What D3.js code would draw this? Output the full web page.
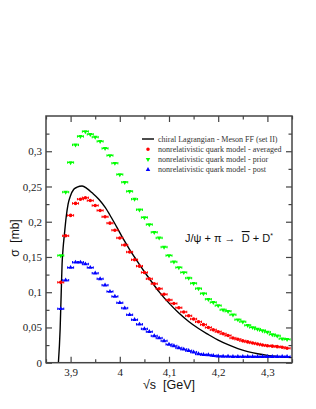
<!DOCTYPE html>
<html>
<head>
<meta charset="utf-8">
<script src="https://cdn.jsdelivr.net/npm/d3@7"></script>
<style>
  body { margin: 0; background: #fff; }
</style>
</head>
<body>
<svg id="drawing_region"></svg>
<script>
// sqrt(s) in GeV, one point every 10 MeV
const sqrtS = [3.88, 3.89, 3.90, 3.91, 3.92, 3.93, 3.94, 3.95, 3.96, 3.97,
               3.98, 3.99, 4.00, 4.01, 4.02, 4.03, 4.04, 4.05, 4.06, 4.07,
               4.08, 4.09, 4.10, 4.11, 4.12, 4.13, 4.14, 4.15, 4.16, 4.17,
               4.18, 4.19, 4.20, 4.21, 4.22, 4.23, 4.24, 4.25, 4.26, 4.27,
               4.28, 4.29, 4.30, 4.31, 4.32, 4.33, 4.34];

const averaged = [0.114, 0.180, 0.209, 0.226, 0.232, 0.234, 0.230, 0.223, 0.216, 0.207,
                  0.198, 0.188, 0.177, 0.167, 0.157, 0.146, 0.137, 0.128, 0.119, 0.112,
                  0.105, 0.097, 0.089, 0.084, 0.078, 0.072, 0.0665, 0.062, 0.058, 0.054,
                  0.050, 0.0466, 0.044, 0.041, 0.0385, 0.035, 0.0333, 0.031, 0.0295, 0.028,
                  0.0266, 0.025, 0.024, 0.0235, 0.0228, 0.022, 0.0205];

const prior = [0.152, 0.242, 0.284, 0.309, 0.321, 0.328, 0.324, 0.320, 0.314, 0.304,
               0.294, 0.283, 0.267, 0.256, 0.243, 0.232, 0.217, 0.206, 0.196, 0.185,
               0.177, 0.164, 0.152, 0.143, 0.135, 0.128, 0.120, 0.1125, 0.105, 0.098,
               0.090, 0.0855, 0.081, 0.075, 0.073, 0.068, 0.061, 0.058, 0.053, 0.050,
               0.0476, 0.0456, 0.0433, 0.040, 0.038, 0.034, 0.033];

const post = [0.0765, 0.117, 0.135, 0.1425, 0.1425, 0.140, 0.135, 0.127, 0.119, 0.110,
              0.101, 0.094, 0.085, 0.0775, 0.068, 0.061, 0.0545, 0.048, 0.044, 0.038,
              0.035, 0.031, 0.026, 0.0238, 0.021, 0.019, 0.017, 0.015, 0.0124, 0.0114,
              0.011, 0.0100, 0.0093, 0.0090, 0.0088, 0.0087, 0.0086, 0.0085, 0.0085, 0.0085,
              0.0085, 0.0085, 0.0085, 0.0086, 0.0086, 0.0087, 0.0087];

// chiral Lagrangian curve
const chiralX = [3.8752, 3.8787, 3.8807, 3.8827, 3.8848, 3.8874, 3.8909, 3.8949, 3.8996, 3.9065,
                 3.9132, 3.9234, 3.9335, 3.9437, 3.9573, 3.9707, 3.9828, 3.995, 4.008, 4.020,
                 4.035, 4.050, 4.065, 4.080, 4.100, 4.120, 4.140, 4.160, 4.180, 4.200,
                 4.220, 4.240, 4.260, 4.280, 4.300, 4.320, 4.350];
const chiralY = [0, 0.047, 0.094, 0.140, 0.163, 0.182, 0.206, 0.225, 0.2365, 0.246,
                 0.249, 0.2507, 0.247, 0.241, 0.232, 0.220, 0.206, 0.191, 0.1745, 0.1605,
                 0.1445, 0.129, 0.1145, 0.1005, 0.0845, 0.0705, 0.0585, 0.0485, 0.040, 0.032,
                 0.0255, 0.020, 0.0158, 0.0127, 0.0104, 0.0088, 0.0072];

const xTicks = [3.9, 4.0, 4.1, 4.2, 4.3];
const xTickLabels = ["3,9", "4", "4,1", "4,2", "4,3"];
const xMinorTicks = [3.85, 3.95, 4.05, 4.15, 4.25, 4.35];
const yTicks = [0, 0.05, 0.1, 0.15, 0.2, 0.25, 0.3];
const yTickLabels = ["0", "0,05", "0,1", "0,15", "0,2", "0,25", "0,3"];
const yMinorTicks = [0.025, 0.075, 0.125, 0.175, 0.225, 0.275, 0.325];

const legendLabels = [
    "chiral Lagrangian - Meson FF (set II)",
    "nonrelativistic quark model - averaged",
    "nonrelativistic quark model - prior",
    "nonrelativistic quark model - post"
];

const config = {
    width: 316,
    height: 409,
    margin: {top: 116, right: 24, bottom: 46.3, left: 46}
};

const svg = d3.select('#drawing_region')
    .attr('width', config.width)
    .attr('height', config.height);

const inner_width = config.width - config.margin.left - config.margin.right;
const inner_height = config.height - config.margin.top - config.margin.bottom;

const chart = svg.append('g')
    .attr('transform', `translate(${config.margin.left}, ${config.margin.top})`);

const xscale = d3.scaleLinear().domain([3.85, 4.35]).range([0, inner_width]);
const yscale = d3.scaleLinear().domain([0, 0.35]).range([inner_height, 0]);

const serif = "'Liberation Serif', 'Times New Roman', serif";
const sans = "'Liberation Sans', Arial, sans-serif";
const axisColor = "#444";

// axes: ticks pointing inward on all four sides
function styleAxis(g) {
    g.select('.domain').remove();
    g.selectAll('.tick line').attr('stroke', axisColor).attr('stroke-width', 1.2);
    g.selectAll('.tick text').attr('font-family', serif).attr('font-size', '11px').attr('fill', '#222');
}

chart.append('g')
    .attr('transform', `translate(0, ${inner_height})`)
    .call(d3.axisBottom(xscale).tickValues(xTicks).tickSizeInner(-6).tickSizeOuter(0)
        .tickPadding(6).tickFormat((d, i) => xTickLabels[i]))
    .call(styleAxis);
chart.append('g')
    .attr('transform', `translate(0, ${inner_height})`)
    .call(d3.axisBottom(xscale).tickValues(xMinorTicks).tickSizeInner(-3.5).tickSizeOuter(0).tickFormat(''))
    .call(styleAxis);
chart.append('g')
    .call(d3.axisTop(xscale).tickValues(xTicks).tickSizeInner(-6).tickSizeOuter(0).tickFormat(''))
    .call(styleAxis);
chart.append('g')
    .call(d3.axisTop(xscale).tickValues(xMinorTicks).tickSizeInner(-3.5).tickSizeOuter(0).tickFormat(''))
    .call(styleAxis);

chart.append('g')
    .call(d3.axisLeft(yscale).tickValues(yTicks).tickSizeInner(-6).tickSizeOuter(0)
        .tickPadding(4).tickFormat((d, i) => yTickLabels[i]))
    .call(styleAxis);
chart.append('g')
    .call(d3.axisLeft(yscale).tickValues(yMinorTicks).tickSizeInner(-3.5).tickSizeOuter(0).tickFormat(''))
    .call(styleAxis);
chart.append('g')
    .attr('transform', `translate(${inner_width}, 0)`)
    .call(d3.axisRight(yscale).tickValues(yTicks).tickSizeInner(-6).tickSizeOuter(0).tickFormat(''))
    .call(styleAxis);
chart.append('g')
    .attr('transform', `translate(${inner_width}, 0)`)
    .call(d3.axisRight(yscale).tickValues(yMinorTicks).tickSizeInner(-3.5).tickSizeOuter(0).tickFormat(''))
    .call(styleAxis);

// clip for the curve
svg.append('defs').append('clipPath').attr('id', 'plotclip')
    .append('rect').attr('width', inner_width).attr('height', inner_height);

// chiral Lagrangian line
const chiral = chiralX.map((x, i) => ({x: x, y: chiralY[i]}));
chart.append('path')
    .datum(chiral)
    .attr('clip-path', 'url(#plotclip)')
    .attr('fill', 'none')
    .attr('stroke', '#000')
    .attr('stroke-width', 1.4)
    .attr('d', d3.line().x(d => xscale(d.x)).y(d => yscale(d.y)).curve(d3.curveMonotoneX));

// quark model series
const series = [
    {name: 'averaged', values: averaged, color: '#ff0000', symbol: d3.symbolCircle, size: 10, rotate: 0},
    {name: 'prior', values: prior, color: '#00ff00', symbol: d3.symbolTriangle, size: 9, rotate: 180},
    {name: 'post', values: post, color: '#0000ff', symbol: d3.symbolTriangle, size: 9, rotate: 0}
];

series.forEach(s => {
    const pts = sqrtS.map((x, i) => ({x: x, y: s.values[i]}));
    const g = chart.append('g');
    const marks = g.selectAll('g.pt')
        .data(pts)
        .enter()
        .append('g')
        .attr('class', 'pt')
        .attr('transform', d => `translate(${xscale(d.x)}, ${yscale(d.y)})`);
    // small bin bar with end caps
    marks.append('path')
        .attr('d', 'M-3,0H3M-3,-1.2V1.2M3,-1.2V1.2')
        .attr('stroke', s.color)
        .attr('stroke-width', 1)
        .attr('fill', 'none');
    marks.append('path')
        .attr('d', d3.symbol().type(s.symbol).size(s.size))
        .attr('transform', `rotate(${s.rotate})`)
        .attr('fill', s.color);
});

// legend
const legend = chart.append('g')
    .attr('transform', `translate(${142 - config.margin.left}, ${139 - config.margin.top})`);

legend.append('line')
    .attr('x1', 0).attr('x2', 12).attr('y1', 0).attr('y2', 0)
    .attr('stroke', '#000').attr('stroke-width', 1.4);

series.forEach((s, i) => {
    legend.append('path')
        .attr('transform', `translate(6, ${(i + 1) * 10.2}) rotate(${s.rotate})`)
        .attr('d', d3.symbol().type(s.symbol).size(s.size))
        .attr('fill', s.color);
});

legend.selectAll('text.leg')
    .data(legendLabels)
    .enter()
    .append('text')
    .attr('class', 'leg')
    .attr('x', 16)
    .attr('y', (d, i) => i * 10.2 + 2.7)
    .attr('font-family', serif)
    .attr('font-size', '8px')
    .attr('fill', '#333')
    .text(d => d);

// reaction annotation
const react = chart.append('text')
    .attr('x', 185 - config.margin.left)
    .attr('y', 242 - config.margin.top)
    .attr('font-family', sans)
    .attr('font-size', '11px')
    .attr('fill', '#111');
react.append('tspan').text('J/\u03C8 + \u03C0 \u2192\u00A0\u00A0');
react.append('tspan').style('text-decoration', 'overline').text('D');
react.append('tspan').text(' + D');
react.append('tspan').attr('dy', -4).attr('font-size', '7px').text('*');

// frame
chart.append('rect')
    .attr('width', inner_width)
    .attr('height', inner_height)
    .attr('fill', 'none')
    .attr('stroke', axisColor)
    .attr('stroke-width', 1.5);

// axis titles
svg.append('text')
    .attr('x', 169)
    .attr('y', 389)
    .attr('text-anchor', 'middle')
    .attr('font-family', sans)
    .attr('font-size', '12.5px')
    .attr('fill', '#111')
    .text('\u221As\u00A0\u00A0[GeV]');

svg.append('text')
    .attr('transform', 'translate(19, 238) rotate(-90)')
    .attr('text-anchor', 'middle')
    .attr('font-family', sans)
    .attr('font-size', '12px')
    .attr('fill', '#111')
    .text('\u03C3\u00A0\u00A0[mb]');
</script>
</body>
</html>
